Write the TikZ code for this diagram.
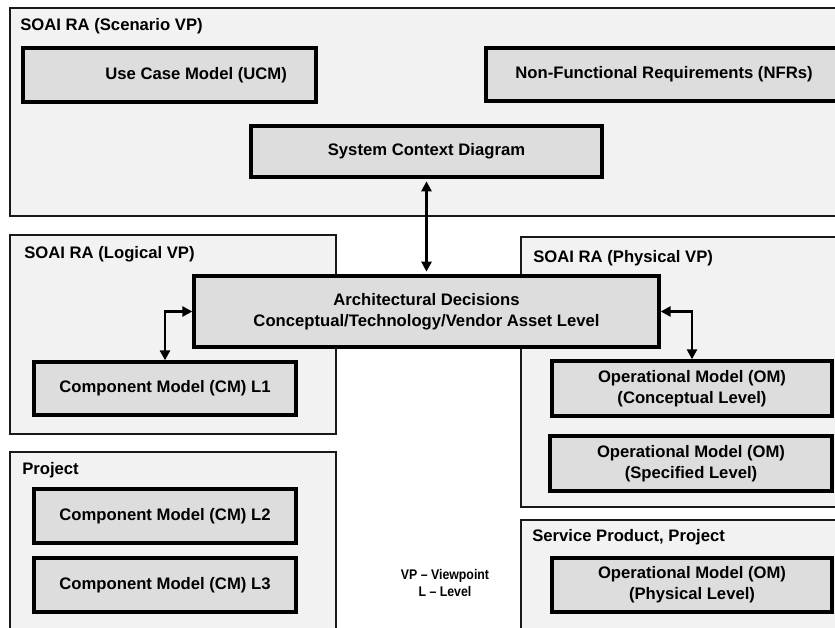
\documentclass[tikz,border=0pt]{standalone}
\usepackage{fontspec}
\setmainfont{Liberation Sans}
\newfontfamily\narrowfont[FakeStretch=0.88]{Liberation Sans}
\usepackage{tikz}
\usetikzlibrary{arrows, arrows.meta, shadows}

\tikzset{
  frame/.style={draw=black!90, line width=1.5pt, fill=gray!10},
  title/.style={anchor=west, inner sep=0pt, font=\bfseries\fontsize{12.5}{15.5}\selectfont},
  model/.style={draw=black, line width=2.5pt, fill=gray!27, align=center, inner sep=0pt,
    font=\bfseries\fontsize{12.5}{16}\selectfont,
    drop shadow={shadow xshift=1.1pt, shadow yshift=-1.1pt, fill=black, opacity=1}},
  boxdim/.style 2 args={minimum width=#1*0.75pt, minimum height=#2*0.75pt},
  link/.style={line width=2.2pt, {Triangle[length=7.5pt,width=7.5pt]}-{Triangle[length=7.5pt,width=7.5pt]}}
}

\begin{document}
\begin{tikzpicture}[x=0.75pt, y=-0.75pt]
\useasboundingbox (0,0) rectangle (835,628);
\clip (0,0) rectangle (835,628);
\fill[white] (0,0) rectangle (835,628);
% viewpoint frames
\draw[frame] (10,8) rectangle (850,216);
\draw[frame] (10,235) rectangle (336,434);
\draw[frame] (10,452) rectangle (336,640);
\draw[frame] (521,237) rectangle (850,507);
\draw[frame] (521,520) rectangle (850,640);
\node[title] (scenario) at (20,26) {SOAI RA (Scenario VP)};
\node[title] (logical) at (24,254) {SOAI RA (Logical VP)};
\node[title] (project) at (22,470) {Project};
\node[title] (physical) at (533,258) {SOAI RA (Physical VP)};
\node[title] (service) at (532,537) {Service Product, Project};
% models
\node[model, boxdim={293}{54}] (ucm) at (169.5,75) {\hspace*{40pt}Use Case Model (UCM)};
\node[model, boxdim={356}{53}] (nfr) at (664,74.5) {Non-Functional Requirements (NFRs)};
\node[model, boxdim={351}{51}] (scd) at (426.5,151.5) {System Context Diagram};
\node[model, boxdim={465}{71}] (ad) at (426.5,311.5) {Architectural Decisions\\Conceptual/Technology/Vendor Asset Level};
\node[model, boxdim={262}{53}] (cm1) at (165,388.5) {Component Model (CM) L1};
\node[model, boxdim={262}{54}] (cm2) at (165,516) {Component Model (CM) L2};
\node[model, boxdim={262}{54}] (cm3) at (165,585) {Component Model (CM) L3};
\node[model, boxdim={280}{55}] (omc) at (692,388.5) {Operational Model (OM)\\(Conceptual Level)};
\node[model, boxdim={282}{55}] (oms) at (691,463.5) {Operational Model (OM)\\(Specified Level)};
\node[model, boxdim={280}{54}] (omp) at (692,585) {Operational Model (OM)\\(Physical Level)};
\node[font=\narrowfont\bfseries\fontsize{10.5}{12.75}\selectfont, align=center] (legend) at (445,583) {VP \textendash{} Viewpoint\\L \textendash{} Level};
% links
\draw[link, shorten <=2pt, shorten >=2pt] (scd.south) -- (ad.north);
\draw[link] (ad.west) -| (cm1.north);
\draw[link] (ad.east) -| (omc.north);
\end{tikzpicture}
\end{document}
